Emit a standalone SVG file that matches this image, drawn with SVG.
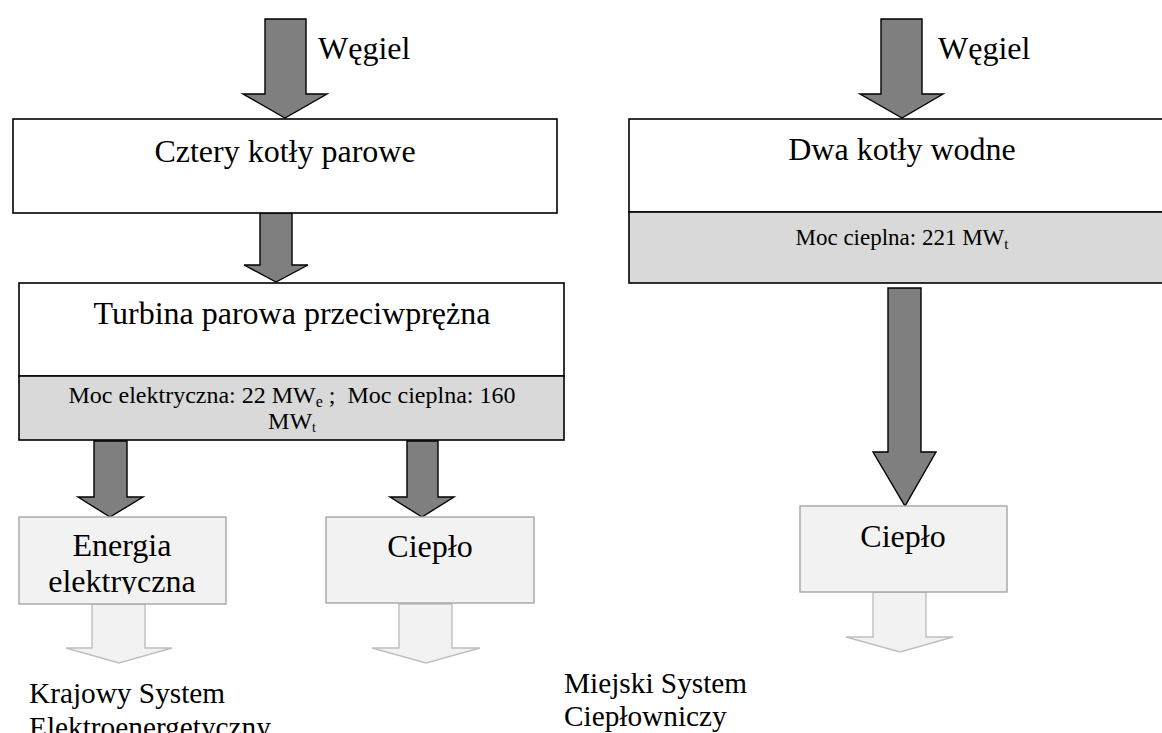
<svg xmlns="http://www.w3.org/2000/svg" width="1162" height="733" viewBox="0 0 1162 733">
<style>
text{font-family:"Liberation Serif","Times New Roman",serif;fill:#000}
.big{font-size:32px}
.mid{font-size:29.3px}
.sm{font-size:24px}
.box{fill:#fff;stroke:#000;stroke-width:1.6}
.band{fill:#d9d9d9;stroke:#000;stroke-width:1.6}
.lbox{fill:#f2f2f2;stroke:#a6a6a6;stroke-width:1.4}
.darr{fill:#7f7f7f;stroke:#000;stroke-width:1.4;stroke-linejoin:miter}
.larr{fill:#f2f2f2;stroke:#bfbfbf;stroke-width:1.4}
</style>
<defs>
<clipPath id="clipE"><rect x="0" y="500" width="240" height="94"/></clipPath>
</defs>
<g id="connectors">
<polygon class="darr" points="265,19 306,19 306,94 327,94 285,118 243,94 265,94"/>
<polygon class="darr" points="260,213 292,213 292,265 308,265 276,282 244,265 260,265"/>
<polygon class="darr" points="94,441 127,441 127,497 143,497 110,517 78,497 94,497"/>
<polygon class="darr" points="407,441 438,441 438,497 454,497 422,517 390,497 407,497"/>
<polygon class="darr" points="881,19 922,19 922,94 943,94 902,118 860,94 881,94"/>
<polygon class="darr" points="888,288 921,288 921,452 936,452 905,506 873,452 888,452"/>
<polygon class="larr" points="92,604 145,604 145,648 172,648 119,663 66,648 92,648"/>
<polygon class="larr" points="399,604 452,604 452,648 480,648 426,663 372,648 399,648"/>
<polygon class="larr" points="873,592 926,592 926,637 953,637 900,652 846,637 873,637"/>
</g>
<g id="label-wegiel-1"><text class="big" x="318" y="59">Węgiel</text></g>
<g id="label-wegiel-2"><text class="big" x="938" y="59">Węgiel</text></g>
<g id="node-kotly-parowe">
<rect class="box" x="13" y="119" width="544" height="94"/>
<text class="big" x="285" y="162" text-anchor="middle">Cztery kotły parowe</text>
</g>
<g id="node-turbina">
<rect class="box" x="19" y="283" width="545" height="93"/>
<rect class="band" x="19" y="376" width="545" height="64"/>
<text class="big" x="292" y="324" text-anchor="middle">Turbina parowa przeciwprężna</text>
<text class="sm" x="292" y="403" text-anchor="middle" xml:space="preserve">Moc elektryczna: 22 MW<tspan font-size="16" dy="4">e</tspan><tspan dy="-4"> ;  Moc cieplna: 160</tspan></text>
<text class="sm" x="292" y="429" text-anchor="middle">MW<tspan font-size="14" dy="3">t</tspan></text>
</g>
<g id="node-kotly-wodne">
<rect class="box" x="629" y="119" width="560" height="93"/>
<rect class="band" x="629" y="212" width="560" height="71"/>
<text class="big" x="902" y="160" text-anchor="middle">Dwa kotły wodne</text>
<text x="902" y="245" text-anchor="middle" font-size="23">Moc cieplna: 221 MW<tspan font-size="15" dy="4">t</tspan></text>
</g>
<g id="node-energia">
<rect class="lbox" x="19" y="517" width="207" height="87"/>
<text class="big" x="122" y="556" text-anchor="middle">Energia</text>
<text class="big" x="122" y="592" text-anchor="middle" clip-path="url(#clipE)">elektryczna</text>
</g>
<g id="node-cieplo-1">
<rect class="lbox" x="326" y="517" width="208" height="86"/>
<text class="big" x="430" y="557" text-anchor="middle">Ciepło</text>
</g>
<g id="node-cieplo-2">
<rect class="lbox" x="800" y="506" width="207" height="86"/>
<text class="big" x="903" y="547" text-anchor="middle">Ciepło</text>
</g>
<g id="label-ksE">
<text class="mid" x="29" y="703">Krajowy System</text>
<text class="mid" x="29" y="737">Elektroenergetyczny</text>
</g>
<g id="label-msc">
<text class="mid" x="564" y="693">Miejski System</text>
<text class="mid" x="564" y="726">Ciepłowniczy</text>
</g>
</svg>
